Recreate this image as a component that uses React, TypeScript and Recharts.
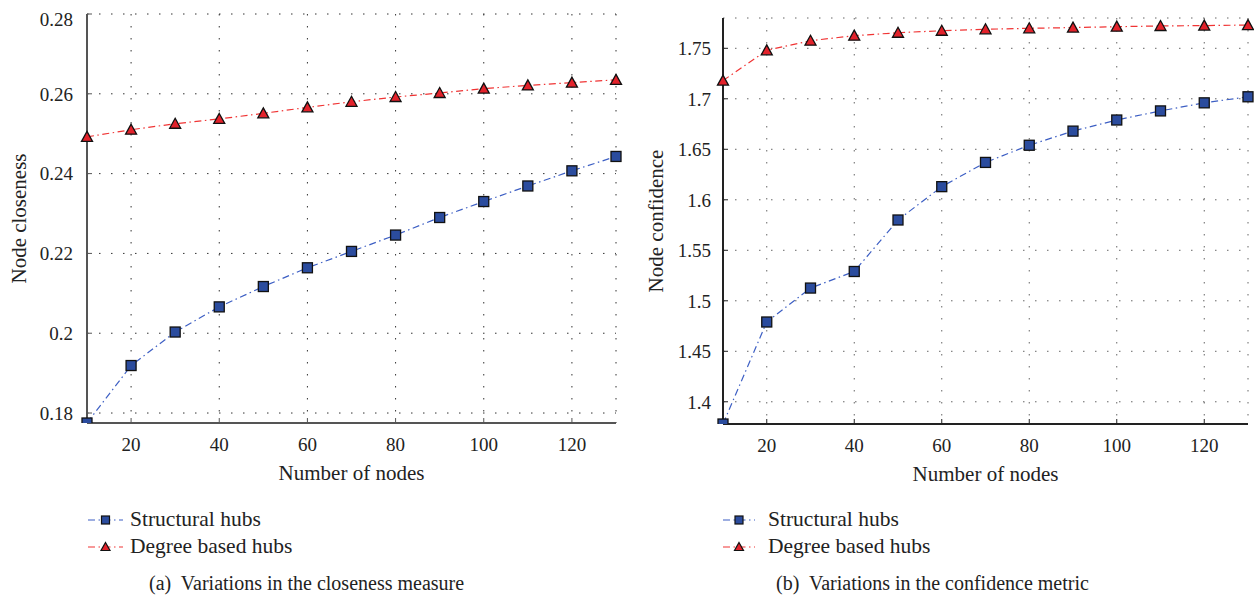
import { LineChart, Line, XAxis, YAxis, CartesianGrid, Label } from 'recharts';

const nodes = [10, 20, 30, 40, 50, 60, 70, 80, 90, 100, 110, 120, 130];
const xTicks = [20, 40, 60, 80, 100, 120];

const closenessStructural = [0.1775, 0.1919, 0.2003, 0.2066, 0.2117, 0.2164, 0.2205, 0.2246, 0.229, 0.233, 0.2369, 0.2407, 0.2443];
const closenessDegree = [0.2492, 0.251, 0.2525, 0.2537, 0.2551, 0.2566, 0.258, 0.2592, 0.2602, 0.2613, 0.2621, 0.2628, 0.2635];
const closenessTicks = [0.18, 0.2, 0.22, 0.24, 0.26, 0.28];

const confidenceStructural = [1.378, 1.479, 1.5126, 1.529, 1.58, 1.613, 1.637, 1.654, 1.668, 1.679, 1.688, 1.696, 1.702];
const confidenceDegree = [1.718, 1.748, 1.7575, 1.7625, 1.7654, 1.7674, 1.7688, 1.7698, 1.7705, 1.7714, 1.7721, 1.7725, 1.773];
const confidenceTicks = [1.4, 1.45, 1.5, 1.55, 1.6, 1.65, 1.7, 1.75];

const seriesNames = ['Structural hubs', 'Degree based hubs'];

const FONT = 'Liberation Serif, DejaVu Serif, serif';
const BLUE_LINE = '#3d5fc4';
const RED_LINE = '#f03434';
const BLUE_FILL = '#2b4c9e';
const RED_FILL = '#e3222b';
const DASH = '7 3.5 1.5 3.5';

function squareDot(props: any) {
    const { cx, cy, index } = props;
    if (cx == null || cy == null) return <g key={`sq-${index}`} />;
    return <rect key={`sq-${index}`} x={cx - 5} y={cy - 5} width={10} height={10} fill={BLUE_FILL} stroke="#111" strokeWidth={1.3} />;
}

function triangleDot(props: any) {
    const { cx, cy, index } = props;
    if (cx == null || cy == null) return <g key={`tr-${index}`} />;
    return (
        <polygon
            key={`tr-${index}`}
            points={`${cx},${cy - 5.5} ${cx + 5.5},${cy + 4.5} ${cx - 5.5},${cy + 4.5}`}
            fill={RED_FILL}
            stroke="#111"
            strokeWidth={1.3}
        />
    );
}

interface PanelProps {
    structural: number[];
    degree: number[];
    yDomain: [number, number];
    yTicks: number[];
    yLabel: string;
    width: number;
    height: number;
    marginTop: number;
    marginRight: number;
    yAxisWidth: number;
    yLabelOffset: number;
    yTickMargin: number;
    axisColor: string;
    gridColor: string;
}

function Panel(p: PanelProps) {
    const data = nodes.map((n, i) => ({ n, structural: p.structural[i], degree: p.degree[i] }));
    const tickStyle = { fontFamily: FONT, fontSize: 19, fill: '#222' };
    return (
        <LineChart width={p.width} height={p.height} data={data} margin={{ top: p.marginTop, right: p.marginRight, left: 0, bottom: 5 }} style={{ fontFamily: FONT }}>
            <CartesianGrid stroke={p.gridColor} strokeDasharray="1.5 10.5" strokeWidth={1} />
            <XAxis
                dataKey="n"
                type="number"
                domain={[10, 130]}
                ticks={xTicks}
                height={70}
                tickSize={-5}
                tickMargin={20}
                tick={tickStyle}
                axisLine={{ stroke: p.axisColor, strokeWidth: 2 }}
                tickLine={{ stroke: p.axisColor }}
            >
                <Label value="Number of nodes" position="insideBottom" offset={13} style={{ fontFamily: FONT, fontSize: 21, fill: '#222' }} />
            </XAxis>
            <XAxis
                xAxisId="top"
                orientation="top"
                type="number"
                domain={[10, 130]}
                ticks={xTicks}
                height={0}
                tickSize={-5}
                tick={false}
                axisLine={{ stroke: '#111', strokeWidth: 1 }}
                tickLine={{ stroke: '#111' }}
            />
            <YAxis
                type="number"
                domain={p.yDomain}
                ticks={p.yTicks}
                width={p.yAxisWidth}
                tickSize={-5}
                tickMargin={p.yTickMargin}
                tick={tickStyle}
                allowDataOverflow
                axisLine={{ stroke: p.axisColor, strokeWidth: 2 }}
                tickLine={{ stroke: p.axisColor }}
            >
                <Label value={p.yLabel} angle={-90} position="insideLeft" offset={p.yLabelOffset} style={{ fontFamily: FONT, fontSize: 21, fill: '#222', textAnchor: 'middle' }} />
            </YAxis>
            <YAxis
                yAxisId="right"
                orientation="right"
                type="number"
                domain={p.yDomain}
                ticks={p.yTicks}
                width={0}
                tickSize={-5}
                tick={false}
                allowDataOverflow
                axisLine={{ stroke: '#111', strokeWidth: 1 }}
                tickLine={{ stroke: '#111' }}
            />
            <Line type="linear" dataKey="degree" name={seriesNames[1]} stroke={RED_LINE} strokeWidth={1.2} strokeDasharray={DASH} dot={triangleDot} isAnimationActive={false} />
            <Line type="linear" dataKey="structural" name={seriesNames[0]} stroke={BLUE_LINE} strokeWidth={1.2} strokeDasharray={DASH} dot={squareDot} isAnimationActive={false} />
        </LineChart>
    );
}

function LegendBox({ left, lineFrom, lineTo, textX }: { left: number; lineFrom: number; lineTo: number; textX: number }) {
    const mid = (lineFrom + lineTo) / 2;
    return (
        <svg style={{ position: 'absolute', left, top: 500 }} width={320} height={60}>
            <line x1={lineFrom} x2={lineTo} y1={20} y2={20} stroke={BLUE_LINE} strokeWidth={1.2} strokeDasharray={DASH} />
            <rect x={mid - 4} y={16} width={8} height={8} fill={BLUE_FILL} stroke="#111" strokeWidth={1.2} />
            <text x={textX} y={26} fontFamily={FONT} fontSize={21.5} fill="#222">{seriesNames[0]}</text>
            <line x1={lineFrom} x2={lineTo} y1={47} y2={47} stroke={RED_LINE} strokeWidth={1.2} strokeDasharray={DASH} />
            <polygon points={`${mid},${42.5} ${mid + 4.5},${50.5} ${mid - 4.5},${50.5}`} fill={RED_FILL} stroke="#111" strokeWidth={1.2} />
            <text x={textX} y={53} fontFamily={FONT} fontSize={21.5} fill="#222">{seriesNames[1]}</text>
        </svg>
    );
}

export default function App() {
    return (
        <div style={{ position: 'fixed', left: 0, top: 0, width: 1256, height: 602, overflow: 'hidden', background: '#fff', fontFamily: FONT }}>
            <div style={{ position: 'absolute', left: 8, top: 8 }}>
                <Panel
                    structural={closenessStructural}
                    degree={closenessDegree}
                    yDomain={[0.1775, 0.28]}
                    yTicks={closenessTicks}
                    yLabel="Node closeness"
                    width={620}
                    height={490}
                    marginTop={6}
                    marginRight={12}
                    yAxisWidth={79}
                    yLabelOffset={11}
                    yTickMargin={19}
                    axisColor="#555"
                    gridColor="#333"
                />
            </div>
            <div style={{ position: 'absolute', left: 640, top: 8 }}>
                <Panel
                    structural={confidenceStructural}
                    degree={confidenceDegree}
                    yDomain={[1.378, 1.78]}
                    yTicks={confidenceTicks}
                    yLabel="Node confidence"
                    width={614}
                    height={491}
                    marginTop={10}
                    marginRight={6}
                    yAxisWidth={83}
                    yLabelOffset={16}
                    yTickMargin={17}
                    axisColor="#222"
                    gridColor="#666"
                />
            </div>
            <LegendBox left={80} lineFrom={8} lineTo={43} textX={50} />
            <LegendBox left={715} lineFrom={8} lineTo={40} textX={53} />
            <svg style={{ position: 'absolute', left: 0, top: 565 }} width={1256} height={37}>
                <text x={149} y={25} fontFamily={FONT} fontSize={20} fill="#222" style={{ whiteSpace: 'pre' }}>(a)  Variations in the closeness measure</text>
                <text x={776} y={25} fontFamily={FONT} fontSize={20} fill="#222" style={{ whiteSpace: 'pre' }}>(b)  Variations in the confidence metric</text>
            </svg>
        </div>
    );
}
